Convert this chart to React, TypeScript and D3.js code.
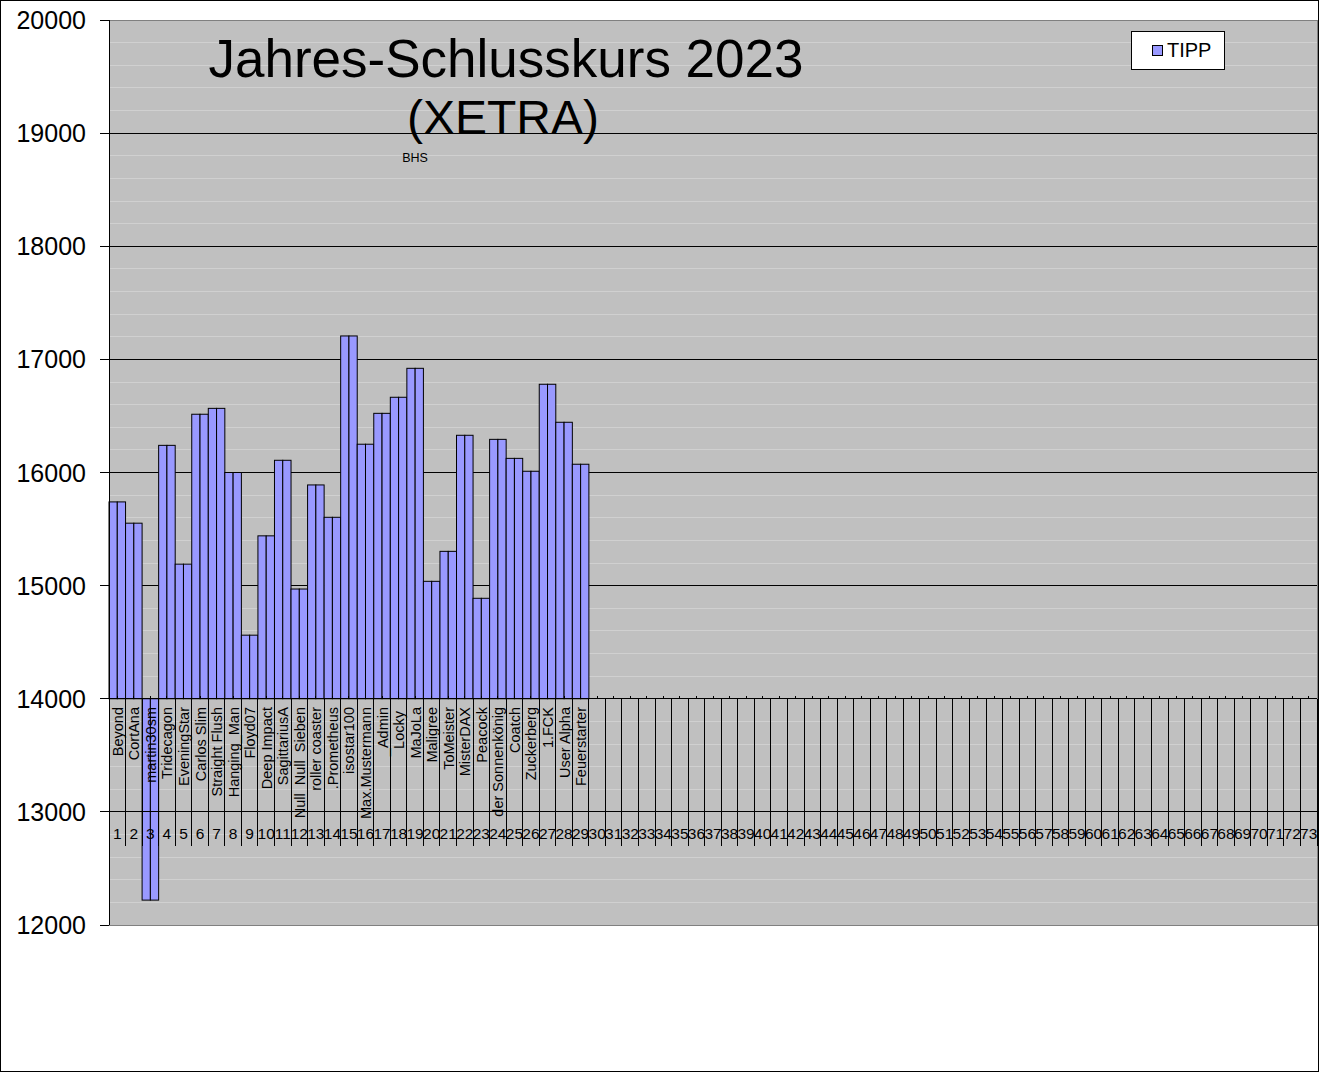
import React from 'react';
import * as d3 from 'd3';

const names: string[] = [
  'Beyond', 'CortAna', 'martin30sm', 'Tridecagon', 'EveningStar', 'Carlos Slim',
  'Straight Flush', 'Hanging_Man', 'Floyd07', 'Deep Impact', 'SagittariusA',
  'Null  Null  Sieben', 'roller coaster', '.Prometheus', 'isostar100', 'Max.Mustermann',
  '_Admin', 'Locky ', 'MaJoLa', 'Maligree', 'ToMeister', 'MisterDAX', 'Peacock',
  'der Sonnenkönig', 'Coatch', 'Zuckerberg', '1.FCK', 'User Alpha', 'Feuerstarter',
];
const tipp: number[] = [
  15740, 15552, 12220, 16240, 15190, 16515, 16567, 16000, 14562, 15440, 16108,
  14970, 15890, 15604, 17207, 16250, 16523, 16665, 16921, 15038, 15303, 16329,
  14888, 16293, 16125, 16011, 16780, 16444, 16073,
];
const slotLabels: string[] = d3.range(1, 74).map(String);
const yTicks: number[] = [12000, 13000, 14000, 15000, 16000, 17000, 18000, 19000, 20000];
const minorStep = 200;
const baseValue = 14000;
const titleLine1 = 'Jahres-Schlusskurs 2023';
const titleLine2 = '(XETRA)';
const noteText = 'BHS';
const seriesName = 'TIPP';

export default function App() {
  const W = 1319, H = 1072;
  const left = 109, right = 1317, top = 20, bottom = 925;
  const font = "'Liberation Sans', Arial, sans-serif";
  const y = d3.scaleLinear().domain([12000, 20000]).range([bottom, top]);
  const x = d3.scaleBand<string>().domain(slotLabels).range([left, right]).padding(0);
  const bw = x.bandwidth();
  const base = y(baseValue);
  const minor = d3.range(12000, 20001, minorStep).filter((v) => v % 1000 !== 0);
  const tableBottom = 846;
  const barColor = '#9999ff';

  return (
    <svg width={W} height={H} style={{ position: 'absolute', left: 0, top: 0, background: '#fff' }} fontFamily={font}>
      <rect x={0.5} y={0.5} width={W - 1} height={H - 1} fill="#fff" stroke="#000" />
      <rect x={left} y={top} width={right - left} height={bottom - top} fill="#c0c0c0" stroke="#808080" strokeWidth={1} shapeRendering="crispEdges" />
      {minor.map((v) => (
        <line key={'m' + v} x1={left} x2={right} y1={y(v)} y2={y(v)} stroke="#d0d0d0" shapeRendering="crispEdges" />
      ))}
      {yTicks.filter((v) => v !== 12000 && v !== 20000).map((v) => (
        <line key={'g' + v} x1={left} x2={right} y1={y(v)} y2={y(v)} stroke="#000" shapeRendering="crispEdges" />
      ))}
      {tipp.map((v, i) => {
        const x0 = x(slotLabels[i])!;
        const y0 = Math.min(y(v), base);
        const h = Math.abs(y(v) - base);
        return (
          <g key={'b' + i}>
            <rect x={x0} y={y0} width={bw / 2} height={h} fill={barColor} stroke="#000" strokeWidth={1} />
            <rect x={x0 + bw / 2} y={y0} width={bw / 2} height={h} fill={barColor} stroke="#000" strokeWidth={1} />
          </g>
        );
      })}
      {slotLabels.map((s) => (
        <line key={'v' + s} x1={x(s)! + bw} x2={x(s)! + bw} y1={base} y2={tableBottom} stroke="#000" shapeRendering="crispEdges" />
      ))}
      {slotLabels.map((s) => (
        <line key={'t' + s} x1={x(s)! + bw / 2} x2={x(s)! + bw / 2} y1={base - 3} y2={base} stroke="#000" shapeRendering="crispEdges" />
      ))}
      <line x1={left} x2={right} y1={base} y2={base} stroke="#000" shapeRendering="crispEdges" />
      <line x1={left} x2={right} y1={y(13000)} y2={y(13000)} stroke="#000" shapeRendering="crispEdges" />
      {names.map((n, i) => {
        const cx = x(slotLabels[i])! + bw / 2;
        return (
          <text key={'n' + i} transform={`translate(${cx + 5.5},${707}) rotate(-90)`} textAnchor="end" fontSize={14.5} fill="#000" style={{ whiteSpace: 'pre' }}>
            {n}
          </text>
        );
      })}
      {slotLabels.map((s) => (
        <text key={'l' + s} x={x(s)! + bw / 2} y={838.5} textAnchor="middle" fontSize={15.5} fill="#000">
          {s}
        </text>
      ))}
      <line x1={left} x2={left} y1={top} y2={bottom} stroke="#000" shapeRendering="crispEdges" />
      {yTicks.map((v) => (
        <g key={'y' + v}>
          <line x1={100} x2={left} y1={y(v)} y2={y(v)} stroke="#000" shapeRendering="crispEdges" />
          <text x={86} y={y(v)} dy="0.36em" textAnchor="end" fontSize={25} fill="#000">{v}</text>
        </g>
      ))}
      <text x={506} y={77} textAnchor="middle" fontSize={53} fill="#000">{titleLine1}</text>
      <text x={503} y={134} textAnchor="middle" fontSize={48} fill="#000">{titleLine2}</text>
      <text x={415} y={162} textAnchor="middle" fontSize={12.5} fill="#000">{noteText}</text>
      <rect x={1131.5} y={31.5} width={93} height={38} fill="#fff" stroke="#000" />
      <rect x={1152.5} y={45.5} width={10} height={10} fill={barColor} stroke="#000" />
      <text x={1167} y={57} fontSize={20} fill="#000">{seriesName}</text>
    </svg>
  );
}
